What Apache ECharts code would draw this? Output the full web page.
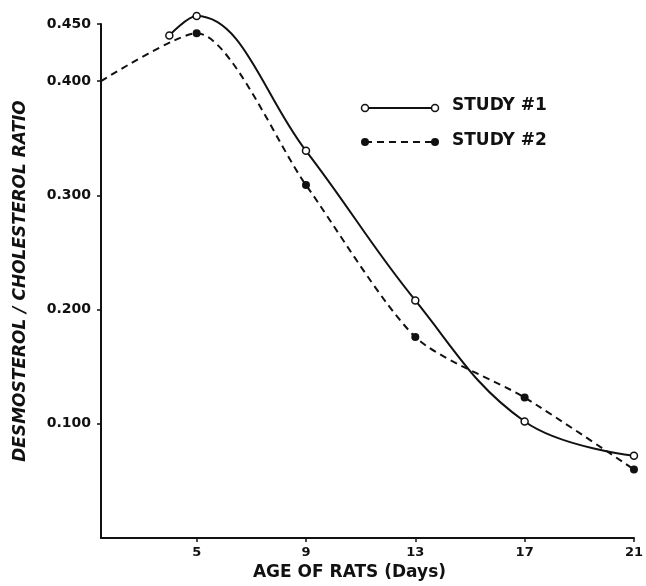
<!DOCTYPE html>
<html>
<head>
<meta charset="utf-8">
<title>Desmosterol / cholesterol ratio</title>
<script src="https://cdn.jsdelivr.net/npm/echarts@6/dist/echarts.min.js"></script>
<style>
  html, body { margin: 0; padding: 0; background: #fff; }
  #chart { width: 646px; height: 586px; }
</style>
</head>
<body>
<div id="chart"></div>
<script>
// values
var studyOneDays = [4, 5, 9, 13, 17, 21];
var studyOneRatio = [0.440, 0.457, 0.339, 0.208, 0.102, 0.072];
var studyTwoDays = [1.5, 5, 9, 13, 17, 21];
var studyTwoRatio = [0.400, 0.442, 0.309, 0.176, 0.123, 0.060];

var dayTicks = [5, 9, 13, 17, 21];
var ratioTicks = [0.1, 0.2, 0.3, 0.4, 0.45];

function pairs(xs, ys) {
  var out = [];
  for (var i = 0; i < xs.length; i++) {
    out.push([xs[i], ys[i]]);
  }
  return out;
}

var ink = '#111';
var font = 'DejaVu Sans';

var chart = echarts.init(document.getElementById('chart'), null, { renderer: 'canvas' });

var option = {
  backgroundColor: '#fff',
  animation: false,
  grid: { left: 101, right: 5, top: 24, bottom: 43, containLabel: false },
  xAxis: {
    type: 'value',
    min: 1.5,
    max: 21,
    name: 'AGE OF RATS (Days)',
    nameLocation: 'middle',
    nameGap: 26,
    nameTextStyle: { fontFamily: font, fontSize: 17, fontWeight: 'bold', color: ink, padding: [0, 36, 0, 0] },
    splitLine: { show: false },
    axisLine: { show: true, onZero: false, lineStyle: { color: ink, width: 2 } },
    axisTick: { show: true, inside: false, length: 4, customValues: dayTicks, lineStyle: { color: ink, width: 1.5 } },
    axisLabel: { customValues: dayTicks, margin: 8, fontFamily: font, fontSize: 13, fontWeight: 'bold', color: ink }
  },
  yAxis: {
    type: 'value',
    min: 0,
    max: 0.45,
    name: 'DESMOSTEROL / CHOLESTEROL RATIO',
    nameLocation: 'middle',
    nameGap: 72,
    nameTextStyle: { fontFamily: font, fontSize: 17, fontStyle: 'italic', fontWeight: 'bold', color: ink },
    splitLine: { show: false },
    axisLine: { show: true, onZero: false, lineStyle: { color: ink, width: 2 } },
    axisTick: { show: true, inside: false, length: 4, customValues: ratioTicks, lineStyle: { color: ink, width: 1.5 } },
    axisLabel: {
      customValues: ratioTicks,
      margin: 10,
      fontFamily: font,
      fontSize: 14,
      fontWeight: 'bold',
      color: ink,
      formatter: function (v) { return v.toFixed(3); }
    }
  },
  series: [
    {
      name: 'STUDY #1',
      type: 'line',
      data: pairs(studyOneDays, studyOneRatio),
      smooth: 0.4,
      clip: false,
      symbol: 'circle',
      symbolSize: 7,
      lineStyle: { color: ink, width: 2 },
      itemStyle: { color: '#fff', borderColor: ink, borderWidth: 1.5 },
      z: 3
    },
    {
      name: 'STUDY #2',
      type: 'line',
      data: pairs(studyTwoDays, studyTwoRatio),
      smooth: 0.25,
      clip: false,
      symbol: 'circle',
      symbolSize: function (val) { return val[0] === studyTwoDays[0] ? 0 : 8; },
      lineStyle: { color: ink, width: 2, type: [7, 5] },
      itemStyle: { color: ink, borderColor: ink, borderWidth: 0 },
      z: 2
    }
  ],
  // hand-drawn style legend: circle---circle + label
  graphic: [
    { type: 'line', shape: { x1: 365, y1: 108, x2: 435, y2: 108 }, style: { stroke: ink, lineWidth: 2 } },
    { type: 'circle', shape: { cx: 365, cy: 108, r: 3.5 }, style: { fill: '#fff', stroke: ink, lineWidth: 1.5 } },
    { type: 'circle', shape: { cx: 435, cy: 108, r: 3.5 }, style: { fill: '#fff', stroke: ink, lineWidth: 1.5 } },
    { type: 'text', x: 452, y: 106, style: { text: 'STUDY #1', fill: ink, font: 'bold 17px "DejaVu Sans"', verticalAlign: 'middle' } },
    { type: 'line', shape: { x1: 365, y1: 142, x2: 435, y2: 142 }, style: { stroke: ink, lineWidth: 2, lineDash: [7, 5] } },
    { type: 'circle', shape: { cx: 365, cy: 142, r: 4 }, style: { fill: ink } },
    { type: 'circle', shape: { cx: 435, cy: 142, r: 4 }, style: { fill: ink } },
    { type: 'text', x: 452, y: 141, style: { text: 'STUDY #2', fill: ink, font: 'bold 17px "DejaVu Sans"', verticalAlign: 'middle' } }
  ]
};

chart.setOption(option);
</script>
</body>
</html>
